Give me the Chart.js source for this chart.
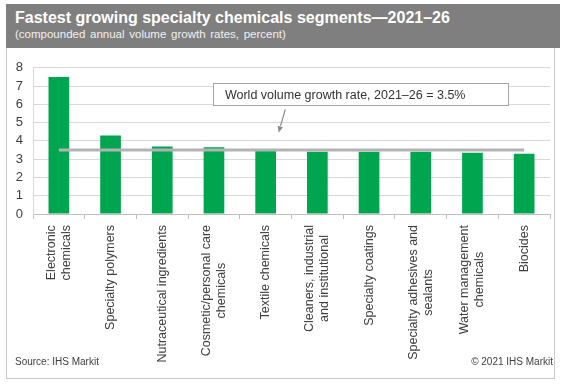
<!DOCTYPE html>
<html>
<head>
<meta charset="utf-8">
<script src="https://cdn.jsdelivr.net/npm/chart.js@4.4.0/dist/chart.umd.min.js"></script>
<style>
  html, body { margin: 0; padding: 0; background: #fff; }
  body { width: 567px; height: 387px; position: relative; overflow: hidden;
         font-family: "Liberation Sans", Arial, sans-serif; }
  #frame { position: absolute; left: 6px; top: 4px; width: 549px; height: 375px;
           border: 1px solid #c8c8c8; box-sizing: border-box; }
  #header { position: absolute; left: 6px; top: 4px; width: 554px; height: 44px;
            background: #7f7f7f; }
  #title { position: absolute; left: 15px; top: 9px; color: #fff; font-weight: bold;
           font-size: 16px; white-space: nowrap; }
  #subtitle { position: absolute; left: 15px; top: 28px; color: #f0f0f0;
              font-size: 11.5px; word-spacing: 1.5px; white-space: nowrap; }
  #chart { position: absolute; left: 0; top: 50px; }
  .foot { position: absolute; top: 356px; font-size: 10px; color: #404040; white-space: nowrap; }
  #source { left: 15px; }
  #copy { right: 14px; }
</style>
</head>
<body>
<div id="frame"></div>
<div id="header"></div>
<div id="title">Fastest growing specialty chemicals segments—2021–26</div>
<div id="subtitle">(compounded annual volume growth rates, percent)</div>
<canvas id="chart" width="567" height="330"></canvas>
<div class="foot" id="source">Source: IHS Markit</div>
<div class="foot" id="copy">© 2021 IHS Markit</div>
<script>
// categories (multi-line labels as arrays)
const segments = [
  ['Electronic', 'chemicals'],
  'Specialty polymers',
  'Nutraceutical ingredients',
  ['Cosmetic/personal care', 'chemicals'],
  'Textile chemicals',
  ['Cleaners, industrial', 'and institutional'],
  'Specialty coatings',
  ['Specialty adhesives and', 'sealants'],
  ['Water management', 'chemicals'],
  'Biocides'
];

// growth rates, percent
const growthRates = [7.5, 4.3, 3.7, 3.65, 3.45, 3.4, 3.4, 3.4, 3.35, 3.3];

// world average, drawn as a flat line across all segments
const worldRate = 3.5;
const worldLine = segments.map(() => worldRate);

const yTicks = [0, 1, 2, 3, 4, 5, 6, 7, 8];

const noteText = 'World volume growth rate, 2021–26 = 3.5%';

// callout placement in data units (category index / percent)
const noteBox = { x0: 2.98, x1: 8.69, y0: 7.15, y1: 5.92 };
const noteArrow = { x0: 4.38, y0: 5.72, x1: 4.25, y1: 4.45 };

const FONT = '"Liberation Sans", Arial, sans-serif';

// rotated category labels, lines centred within each label block
const xLabelsPlugin = {
  id: 'xLabels',
  afterDraw(chart) {
    const { ctx, scales: { x } } = chart;
    const lh = 15;
    const top = x.top + 11;
    ctx.save();
    ctx.fillStyle = '#404040';
    ctx.font = '12.5px ' + FONT;
    ctx.textAlign = 'center';
    ctx.textBaseline = 'middle';
    segments.forEach((lab, i) => {
      const lines = Array.isArray(lab) ? lab : [lab];
      const w = Math.max(...lines.map(l => ctx.measureText(l).width));
      const cx = x.getPixelForValue(i);
      lines.forEach((ln, j) => {
        ctx.save();
        ctx.translate(cx + (j - (lines.length - 1) / 2) * lh, top);
        ctx.rotate(-Math.PI / 2);
        ctx.fillText(ln, -w / 2, 0);
        ctx.restore();
      });
    });
    ctx.restore();
  }
};

const calloutPlugin = {
  id: 'callout',
  afterDatasetsDraw(chart) {
    const { ctx, scales: { x, y } } = chart;
    const px = v => x.getPixelForValue(0) + v * (x.getPixelForValue(1) - x.getPixelForValue(0));
    const left = px(noteBox.x0), right = px(noteBox.x1);
    const top = y.getPixelForValue(noteBox.y0), bottom = y.getPixelForValue(noteBox.y1);
    ctx.save();
    ctx.fillStyle = '#fff';
    ctx.strokeStyle = '#a6a6a6';
    ctx.lineWidth = 1;
    ctx.fillRect(left, top, right - left, bottom - top);
    ctx.strokeRect(Math.round(left) + 0.5, Math.round(top) + 0.5, Math.round(right - left), Math.round(bottom - top));
    ctx.fillStyle = '#333';
    ctx.font = '12.5px ' + FONT;
    ctx.textBaseline = 'middle';
    ctx.fillText(noteText, left + 12, (top + bottom) / 2 + 1);

    // arrow
    const ax0 = px(noteArrow.x0), ay0 = y.getPixelForValue(noteArrow.y0);
    const ax1 = px(noteArrow.x1), ay1 = y.getPixelForValue(noteArrow.y1);
    const ang = Math.atan2(ay1 - ay0, ax1 - ax0);
    const head = 7;
    ctx.strokeStyle = '#8c8c8c';
    ctx.fillStyle = '#8c8c8c';
    ctx.lineWidth = 1.2;
    ctx.beginPath();
    ctx.moveTo(ax0, ay0);
    ctx.lineTo(ax1 - Math.cos(ang) * head, ay1 - Math.sin(ang) * head);
    ctx.stroke();
    ctx.beginPath();
    ctx.moveTo(ax1, ay1);
    ctx.lineTo(ax1 - Math.cos(ang - 0.4) * head, ay1 - Math.sin(ang - 0.4) * head);
    ctx.lineTo(ax1 - Math.cos(ang + 0.4) * head, ay1 - Math.sin(ang + 0.4) * head);
    ctx.closePath();
    ctx.fill();
    ctx.restore();
  }
};

new Chart(document.getElementById('chart'), {
  type: 'bar',
  data: {
    labels: segments,
    datasets: [
      {
        type: 'line',
        data: worldLine,
        borderColor: '#b3b3b3',
        borderWidth: 3,
        pointRadius: 0,
        fill: false,
        order: 0
      },
      {
        data: growthRates,
        backgroundColor: '#00a64f',
        barPercentage: 0.4,
        categoryPercentage: 1,
        order: 1
      }
    ]
  },
  options: {
    responsive: false,
    animation: false,
    events: [],
    layout: { padding: { top: 14, right: 17, left: 0, bottom: 0 } },
    plugins: { legend: { display: false }, tooltip: { enabled: false } },
    scales: {
      x: {
        grid: { drawOnChartArea: false, drawTicks: true, tickLength: 5, offset: true, color: '#bfbfbf' },
        border: { color: '#bfbfbf' },
        ticks: { display: false },
        afterFit(axis) { axis.height = 166; }
      },
      y: {
        min: 0, max: 8,
        afterBuildTicks(axis) { axis.ticks = yTicks.map(v => ({ value: v })); },
        grid: { color: '#d9d9d9', drawTicks: false },
        border: { color: '#d9d9d9' },
        ticks: {
          autoSkip: false, padding: 10, color: '#404040',
          font: { family: FONT, size: 13 }
        },
        afterFit(axis) { axis.width = 33; }
      }
    }
  },
  plugins: [calloutPlugin, xLabelsPlugin]
});
</script>
</body>
</html>
